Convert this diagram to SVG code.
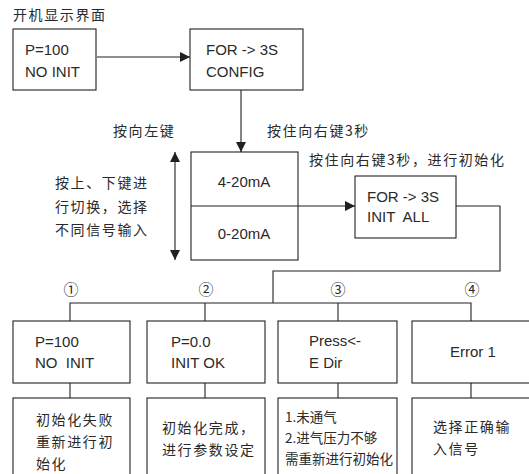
<svg xmlns="http://www.w3.org/2000/svg" width="529" height="474" viewBox="0 0 529 474">
<defs>
<marker id="ah" viewBox="0 0 10 10" refX="10" refY="5" markerWidth="10" markerHeight="10" markerUnits="userSpaceOnUse" orient="auto-start-reverse"><path d="M0,0 L10,5 L0,10 z" fill="#231f20"/></marker>
<style>
.b{fill:#fff;stroke:#231f20;stroke-width:1.1}
.l{fill:none;stroke:#231f20;stroke-width:1.1}
.t{font-family:"Liberation Sans","Noto Sans CJK SC",sans-serif;font-size:15px;fill:#2a2a2a;white-space:pre}
.c{font-family:"Noto Sans CJK SC",sans-serif;font-size:14px;fill:#2a2a2a;letter-spacing:1.6px}
.c2{font-family:"Noto Sans CJK SC",sans-serif;font-size:13.5px;fill:#2a2a2a}
.n{font-family:"Noto Sans CJK SC",sans-serif;font-size:15px;fill:#2a2a2a;text-anchor:middle}
</style>
</defs>
<rect width="529" height="474" fill="#fff"/>
<text class="c" x="13" y="20">开机显示界面</text>
<g id="connectors">
<line class="l" x1="97" y1="57" x2="190" y2="57" marker-end="url(#ah)"/>
<line class="l" x1="241" y1="90" x2="241" y2="152" marker-end="url(#ah)"/>
<line class="l" x1="175" y1="152" x2="175" y2="260" marker-start="url(#ah)" marker-end="url(#ah)"/>
<line class="l" x1="298" y1="206" x2="355" y2="206" marker-end="url(#ah)"/>
<polyline class="l" points="456,206 500,206 500,271 273,271 273,303"/>
<polyline class="l" points="70,321 70,303 471,303 471,321"/>
<line class="l" x1="205" y1="303" x2="205" y2="321"/>
<line class="l" x1="338" y1="303" x2="338" y2="321"/>
<line class="l" x1="70" y1="383" x2="70" y2="398"/>
<line class="l" x1="205" y1="383" x2="205" y2="398"/>
<line class="l" x1="338" y1="383" x2="338" y2="398"/>
<line class="l" x1="471" y1="383" x2="471" y2="398"/>
</g>
<g id="n-start"><rect class="b" x="13" y="29" width="83" height="61"/><text class="t" x="25" y="55">P=100</text><text class="t" x="25" y="77">NO INIT</text></g>
<g id="n-config"><rect class="b" x="190" y="29" width="113" height="61"/><text class="t" x="206" y="55">FOR -&gt; 3S</text><text class="t" x="206" y="77">CONFIG</text></g>
<g id="lbl-left"><text class="c" x="113" y="136">按向左键</text></g>
<g id="lbl-right"><text class="c" x="267" y="136">按住向右键3秒</text></g>
<g id="lbl-init"><text class="c" x="309" y="165">按住向右键3秒，进行初始化</text></g>
<g id="lbl-updown"><text class="c" x="55" y="188">按上、下键进</text><text class="c" x="55" y="212">行切换，选择</text><text class="c" x="55" y="235">不同信号输入</text></g>
<g id="n-signal"><rect class="b" x="191" y="152" width="107" height="108"/><line class="l" x1="191" y1="206" x2="298" y2="206"/><text class="t" x="244" y="187" text-anchor="middle">4-20mA</text><text class="t" x="244" y="239" text-anchor="middle">0-20mA</text></g>
<g id="n-initall"><rect class="b" x="355" y="176" width="101" height="62"/><text class="t" x="367" y="202">FOR -&gt; 3S</text><text class="t" x="367" y="222">INIT  ALL</text></g>
<g id="nums"><text class="n" x="71" y="295">①</text><text class="n" x="206" y="295">②</text><text class="n" x="338" y="295">③</text><text class="n" x="472" y="295">④</text></g>
<g id="n-r1a"><rect class="b" x="13" y="321" width="117" height="62"/><text class="t" x="35" y="347">P=100</text><text class="t" x="35" y="368">NO  INIT</text></g>
<g id="n-r1b"><rect class="b" x="147" y="321" width="118" height="62"/><text class="t" x="171" y="347">P=0.0</text><text class="t" x="171" y="368">INIT OK</text></g>
<g id="n-r1c"><rect class="b" x="278" y="321" width="119" height="62"/><text class="t" x="309" y="346">Press&lt;-</text><text class="t" x="309" y="368">E Dir</text></g>
<g id="n-r1d"><rect class="b" x="412" y="321" width="125" height="62"/><text class="t" x="450" y="357">Error 1</text></g>
<g id="n-r2a"><rect class="b" x="13" y="398" width="117" height="90"/><text class="c" x="36" y="425">初始化失败</text><text class="c" x="36" y="447">重新进行初</text><text class="c" x="36" y="469">始化</text></g>
<g id="n-r2b"><rect class="b" x="147" y="398" width="118" height="90"/><text class="c" x="162" y="433">初始化完成，</text><text class="c" x="162" y="455">进行参数设定</text></g>
<g id="n-r2c"><rect class="b" x="278" y="398" width="119" height="90"/><text class="c2" x="285" y="422">1.未通气</text><text class="c2" x="285" y="443">2.进气压力不够</text><text class="c2" x="285" y="464">需重新进行初始化</text></g>
<g id="n-r2d"><rect class="b" x="412" y="398" width="125" height="90"/><text class="c" x="433" y="432">选择正确输</text><text class="c" x="433" y="454">入信号</text></g>
</svg>
